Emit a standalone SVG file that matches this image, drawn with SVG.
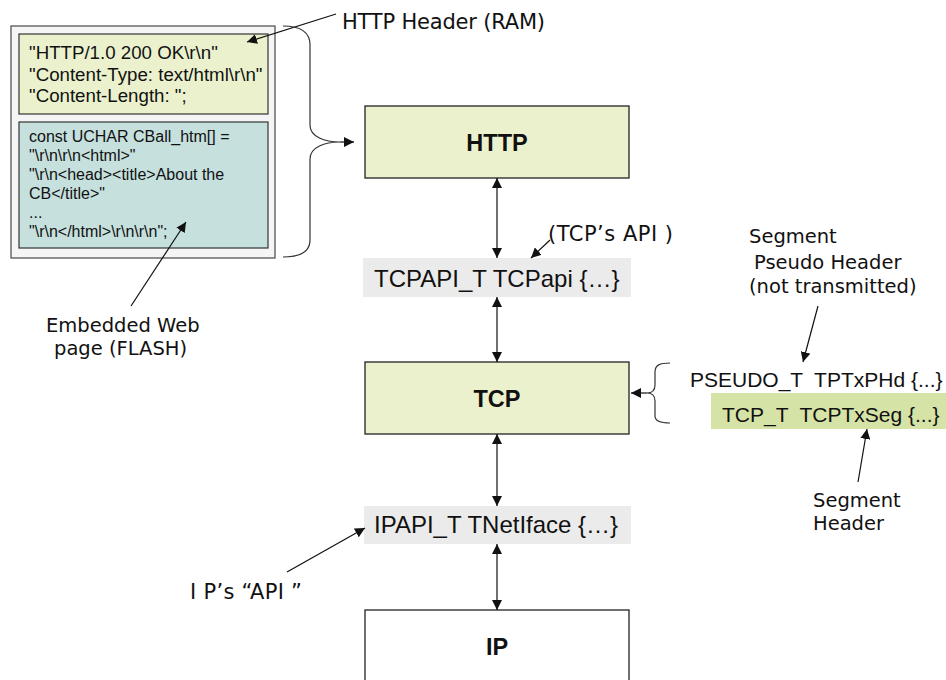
<svg xmlns="http://www.w3.org/2000/svg" width="946" height="680" viewBox="0 0 946 680">
<style>
.node{fill:#ebf1cd;stroke:#222;stroke-width:1.3}
.api{fill:#ebebeb}
.lbl{font-family:"DejaVu Sans",sans-serif;font-size:19.5px;fill:#111}
.lbl2{font-family:"DejaVu Sans",sans-serif;font-size:21px;fill:#111}
.code{font-family:"Liberation Sans",Arial,sans-serif;fill:#111}
.big{font-family:"Liberation Sans",Arial,sans-serif;font-size:23.5px;font-weight:bold;fill:#111;text-anchor:middle}
.ln{fill:none;stroke:#111;stroke-width:1.2}
.br{fill:none;stroke:#333;stroke-width:1.2}
</style>
<defs>
<marker id="ah" viewBox="0 0 10 10" refX="10" refY="5" markerWidth="10" markerHeight="10" markerUnits="userSpaceOnUse" orient="auto-start-reverse">
<path d="M0,0 L10,5 L0,10 z" fill="#111"/>
</marker>
</defs>
<rect width="946" height="680" fill="#fff"/>
<g id="memory">
<rect x="11" y="26" width="264" height="232" fill="#f5f5f5" stroke="#555" stroke-width="1.3"/>
<rect x="19" y="34" width="249" height="80" fill="#ebf1cd" stroke="#333" stroke-width="1.2"/>
<text class="code" font-size="18.7" x="29" y="59">"HTTP/1.0 200 OK\r\n"</text>
<text class="code" font-size="18.7" x="29" y="81">"Content-Type: text/html\r\n"</text>
<text class="code" font-size="18.7" x="29" y="102">"Content-Length: ";</text>
<rect x="19" y="122" width="249" height="126" fill="#c6e0de" stroke="#333" stroke-width="1.2"/>
<text class="code" font-size="16" x="29" y="142">const UCHAR CBall_htm[] =</text>
<text class="code" font-size="16" x="29" y="161">"\r\n\r\n&lt;html&gt;"</text>
<text class="code" font-size="16" x="29" y="180">"\r\n&lt;head&gt;&lt;title&gt;About the</text>
<text class="code" font-size="16" x="29" y="199">CB&lt;/title&gt;"</text>
<text class="code" font-size="16" x="29" y="218">...</text>
<text class="code" font-size="16" x="29" y="237">"\r\n&lt;/html&gt;\r\n\r\n";</text>
</g>
<g id="http"><rect class="node" x="365" y="106" width="264" height="72"/><text class="big" x="497" y="151">HTTP</text></g>
<g id="tcpapi"><rect class="api" x="363" y="258" width="268" height="39"/><text class="code" font-size="24" x="374" y="287">TCPAPI_T TCPapi {…}</text></g>
<g id="tcp"><rect class="node" x="365" y="362" width="264" height="72"/><text class="big" x="497" y="407">TCP</text></g>
<g id="ipapi"><rect class="api" x="364" y="506" width="267" height="38"/><text class="code" font-size="24" x="374" y="533">IPAPI_T TNetIface {…}</text></g>
<g id="ip"><rect x="365" y="610" width="264" height="80" fill="#fff" stroke="#222" stroke-width="1.3"/><text class="big" x="497" y="655">IP</text></g>
<g id="segs">
<text class="code" font-size="21" x="690" y="387" xml:space="preserve">PSEUDO_T  TPTxPHd {...}</text>
<rect x="711" y="393" width="235" height="36" fill="#d6e3a6"/>
<text class="code" font-size="21" x="722" y="422" xml:space="preserve">TCP_T  TCPTxSeg {...}</text>
</g>
<g id="labels">
<text class="lbl2" x="342" y="29" textLength="203" lengthAdjust="spacing">HTTP Header (RAM)</text>
<text class="lbl2" x="548" y="241" textLength="125" lengthAdjust="spacing">(TCP’s API )</text>
<text class="lbl" x="749" y="243">Segment</text>
<text class="lbl" x="754" y="269">Pseudo Header</text>
<text class="lbl" x="749" y="293">(not transmitted)</text>
<text class="lbl" x="46" y="332">Embedded Web</text>
<text class="lbl" x="54" y="355">page (FLASH)</text>
<text class="lbl" x="813" y="507">Segment</text>
<text class="lbl" x="813" y="530">Header</text>
<text class="lbl2" x="190" y="599" textLength="112" lengthAdjust="spacing">I P’s “API ”</text>
</g>
<g id="connectors">
<line class="ln" x1="497" y1="178" x2="497" y2="258" marker-start="url(#ah)" marker-end="url(#ah)"/>
<line class="ln" x1="497" y1="297" x2="497" y2="362" marker-start="url(#ah)" marker-end="url(#ah)"/>
<line class="ln" x1="497" y1="434" x2="497" y2="506" marker-start="url(#ah)" marker-end="url(#ah)"/>
<line class="ln" x1="497" y1="544" x2="497" y2="610" marker-start="url(#ah)" marker-end="url(#ah)"/>
<line class="ln" x1="336" y1="14" x2="247" y2="42" marker-end="url(#ah)"/>
<line class="ln" x1="131" y1="306" x2="186" y2="222" marker-end="url(#ah)"/>
<line class="ln" x1="550" y1="240" x2="531" y2="258" marker-end="url(#ah)"/>
<line class="ln" x1="818" y1="306" x2="803" y2="362" marker-end="url(#ah)"/>
<line class="ln" x1="858" y1="482" x2="867" y2="429" marker-end="url(#ah)"/>
<line class="ln" x1="287" y1="572" x2="365" y2="528" marker-end="url(#ah)"/>
<path class="br" d="M283,26 C300,26 310,32 310,45 L310,125 C310,137 325,142 340,142 C325,142 310,147 310,159 L310,240 C310,252 300,257 283,257"/>
<line class="ln" x1="340" y1="142" x2="354" y2="142" marker-end="url(#ah)"/>
<path class="br" d="M670,363 C660,363 655,365 655,372 L655,385 C655,390 652,393 647,393 C652,393 655,396 655,401 L655,416 C655,421 660,423 670,423"/>
<line class="ln" x1="647" y1="393" x2="631" y2="393" marker-end="url(#ah)"/>
</g>
</svg>
